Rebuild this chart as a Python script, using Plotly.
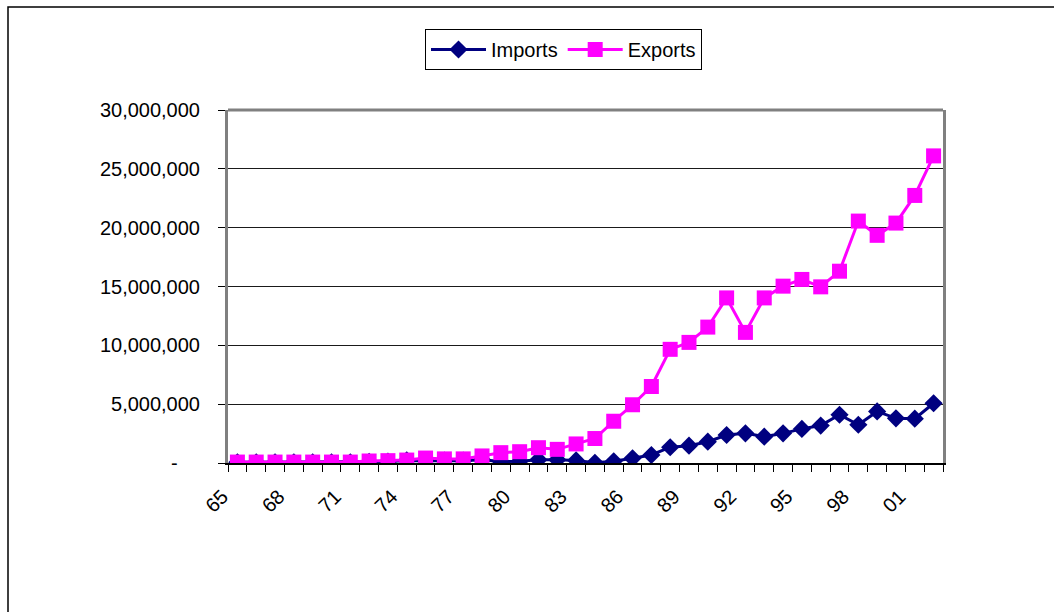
import plotly.graph_objects as go

# Trade values by year, 1965-2002
years = list(range(1965, 2003))
imports = [
    0.06e6, 0.06e6, 0.06e6, 0.06e6, 0.06e6, 0.06e6, 0.06e6, 0.10e6, 0.12e6, 0.22e6,
    0.20e6, 0.20e6, 0.20e6, 0.28e6, 0.12e6, 0.15e6, 0.28e6, 0.28e6, 0.22e6, 0.02e6,
    0.15e6, 0.40e6, 0.68e6, 1.34e6, 1.47e6, 1.81e6, 2.38e6, 2.52e6, 2.24e6, 2.52e6,
    2.90e6, 3.18e6, 4.10e6, 3.25e6, 4.38e6, 3.80e6, 3.77e6, 5.08e6,
]
exports = [
    0.08e6, 0.08e6, 0.08e6, 0.08e6, 0.08e6, 0.08e6, 0.08e6, 0.17e6, 0.20e6, 0.25e6,
    0.42e6, 0.35e6, 0.35e6, 0.60e6, 0.88e6, 0.96e6, 1.30e6, 1.16e6, 1.62e6, 2.08e6,
    3.55e6, 4.95e6, 6.50e6, 9.66e6, 10.25e6, 11.55e6, 14.03e6, 11.10e6, 14.03e6, 15.03e6,
    15.60e6, 14.97e6, 16.30e6, 20.56e6, 19.35e6, 20.39e6, 22.74e6, 26.10e6,
]

# Axis labels
x_tick_years = years[::3]
x_tick_text = [f"{y % 100:02d}" for y in x_tick_years]
y_tick_vals = [0, 5e6, 10e6, 15e6, 20e6, 25e6, 30e6]
# accounting-style zero: a dash padded on the right
y_tick_text = ["-\u00a0\u00a0\u00a0\u00a0"] + [f"{int(v):,}" for v in y_tick_vals[1:]]

FONT = "Liberation Sans, Arial, sans-serif"

fig = go.Figure()
fig.add_trace(go.Scatter(
    x=years, y=imports, name="Imports", mode="lines+markers",
    line=dict(color="#000080", width=3),
    marker=dict(symbol="diamond", size=14, color="#000080"),
))
fig.add_trace(go.Scatter(
    x=years, y=exports, name="Exports", mode="lines+markers",
    line=dict(color="#FF00FF", width=3),
    marker=dict(symbol="square", size=15, color="#FF00FF"),
))

L, R, T, B = 228, 111, 110, 149
W, H = 1054, 612
pw, ph = W - L - R, H - T - B

fig.update_layout(
    width=W, height=H,
    margin=dict(l=L, r=R, t=T, b=B),
    paper_bgcolor="white", plot_bgcolor="white",
    font=dict(family=FONT, size=20, color="black"),
    showlegend=True,
    legend=dict(
        orientation="h", x=(563.5 - L) / pw, xanchor="center",
        y=(H - B - 29) / ph, yanchor="top",
        bordercolor="#000000", borderwidth=1, bgcolor="white",
        font=dict(family=FONT, size=20), itemwidth=55,
        tracegroupgap=0,
    ),
    xaxis=dict(
        range=[years[0] - 0.5, years[-1] + 0.5],
        tickmode="array", tickvals=x_tick_years, ticktext=x_tick_text,
        tickangle=-45, ticks="", showgrid=False, zeroline=False,
        showline=True, linecolor="black", linewidth=2,
        ticklabelstandoff=12, ticklabelshift=-15,
        minor=dict(ticks="outside", ticklen=7, tickcolor="black",
                   tick0=years[0] - 0.5, dtick=1, showgrid=False),
        tickfont=dict(family=FONT, size=20),
    ),
    yaxis=dict(
        range=[0, 30e6], tickmode="array", tickvals=y_tick_vals, ticktext=y_tick_text,
        ticks="outside", ticklen=7, tickcolor="black",
        showgrid=True, gridcolor="#1a1a1a", gridwidth=1, zeroline=False,
        showline=True, linecolor="#808080", linewidth=3, mirror=True,
        ticklabelstandoff=14,
        tickfont=dict(family=FONT, size=20),
    ),
    shapes=[
        # plot frame top edge
        dict(type="line", xref="paper", yref="paper", x0=0, x1=1, y0=1, y1=1,
             line=dict(color="#808080", width=3)),
        # outer chart border
        dict(type="rect", xref="paper", yref="paper",
             x0=(8 - L) / pw, x1=(W + 20 - L) / pw,
             y0=(H - B - (H + 20)) / ph, y1=(H - B - 7) / ph,
             line=dict(color="black", width=1.5), layer="below"),
    ],
)

fig.write_html("out.html")
